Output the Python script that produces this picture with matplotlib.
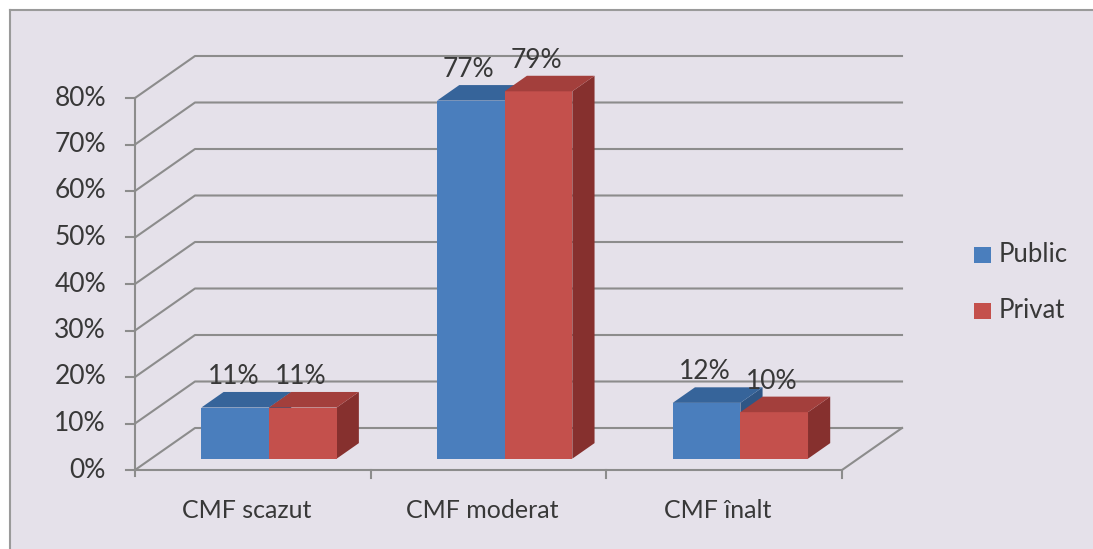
import numpy as np
import matplotlib
matplotlib.use("Agg")
import matplotlib.pyplot as plt
from matplotlib.patches import Rectangle
from matplotlib.lines import Line2D

# =====================
# Data
# =====================
categories = ['CMF scazut', 'CMF moderat', 'CMF înalt']
public = [11, 77, 12]
privat = [11, 79, 10]
series_names = ['Public', 'Privat']
yticks = [0, 10, 20, 30, 40, 50, 60, 70, 80]
ytick_labels = ['0%', '10%', '20%', '30%', '40%', '50%', '60%', '70%', '80%']

# =====================
# Style / layout
# =====================
plt.rcParams['font.family'] = ['Lato', 'DejaVu Sans']
W, H = 1093, 549
BG = '#E5E1EA'
GRID = '#8C8C8C'
TXT = '#383838'
front_cols = ['#4A7EBD', '#C4504C']
top_cols = ['#36649A', '#A33F3C']
side_cols = ['#2F5685', '#86302E']

# pixel anchors of the plot box (front plane)
px_x0, px_per_cat = 135, 235.67
px_y0, px_per_pct = 470, 4.65
DX = 60 / px_per_cat       # depth offset, category units
DY = 42 / px_per_pct       # depth offset, percent units
d0, d1 = 0.27, 0.64        # bar depth range (fraction)
bw = 0.287                 # bar width

fig = plt.figure(figsize=(W / 100, H / 100), dpi=100)
fig.patch.set_facecolor('white')
fig.patches.append(Rectangle((10 / W, 0), 1, 1 - 10 / H, transform=fig.transFigure,
                             facecolor=BG, edgecolor='none', zorder=-5))
fig.lines.append(Line2D([10 / W, 1], [1 - 10 / H, 1 - 10 / H], transform=fig.transFigure,
                        color='#9A9A9A', lw=1.5, zorder=-4))
fig.lines.append(Line2D([10 / W, 10 / W], [0, 1 - 10 / H], transform=fig.transFigure,
                        color='#9A9A9A', lw=1.5, zorder=-4))

ax = fig.add_axes([0, 0, 1, 1])
ax.patch.set_alpha(0)
ax.axis('off')
ax.set_xlim(-px_x0 / px_per_cat, (W - px_x0) / px_per_cat)
ax.set_ylim((px_y0 - H) / px_per_pct, px_y0 / px_per_pct)

n = len(categories)
gx = 1 / px_per_cat   # one pixel in x data units
gy = 1 / px_per_pct   # one pixel in y data units

# walls / gridlines
for v, lab in zip(yticks, ytick_labels):
    ax.plot([0, DX, n + DX], [v, v + DY, v + DY], color=GRID, lw=1.5, zorder=1)
    ax.plot([-9 * gx, 0], [v, v], color=GRID, lw=1.5, zorder=1)
    ax.text(-29 * gx, v, lab, ha='right', va='center', fontsize=19, color=TXT)
ax.plot([0, 0], [-6 * gy, yticks[-1]], color=GRID, lw=1.5, zorder=1)
ax.plot([0, n, n + DX], [0, 0, DY], color=GRID, lw=1.5, zorder=1)
for i in range(1, n + 1):
    ax.plot([i, i], [0, -8 * gy], color=GRID, lw=1.5, zorder=1)
for i, c in enumerate(categories):
    ax.text(i + 0.5 - 6 * gx, -40 * gy, c, ha='center', va='center', fontsize=18, color=TXT)

# bars
for i in range(n):
    for s, vals in enumerate([public, privat]):
        v = vals[i]
        xl = i + 0.5 - bw + s * bw
        xr = xl + bw
        fx, fy = d0 * DX, d0 * DY
        bx, by = d1 * DX, d1 * DY
        ax.fill([xr + fx, xr + bx, xr + bx, xr + fx], [fy, by, v + by, v + fy],
                color=side_cols[s], lw=0, zorder=3)
        ax.fill([xl + fx, xr + fx, xr + fx, xl + fx], [fy, fy, v + fy, v + fy],
                color=front_cols[s], lw=0, zorder=3)
        ax.fill([xl + fx, xr + fx, xr + bx, xl + bx], [v + fy, v + fy, v + by, v + by],
                color=top_cols[s], lw=0, zorder=3)
        ax.text((xl + xr) / 2 + fx - 2 * gx, v + fy + 31 * gy, f'{v}%',
                ha='center', va='center', fontsize=19, color=TXT, zorder=5)

# legend
for s, name in enumerate(series_names):
    ly = (px_y0 - 255 - s * 56) / px_per_pct
    lx = (974 - px_x0) / px_per_cat
    ax.add_patch(Rectangle((lx, ly - 8 * gy), 17 * gx, 16 * gy,
                           facecolor=front_cols[s], edgecolor='none'))
    ax.text(lx + 25 * gx, ly, name, ha='left', va='center', fontsize=18.5, color=TXT)

fig.savefig('out.png', dpi=100, facecolor=fig.get_facecolor())
